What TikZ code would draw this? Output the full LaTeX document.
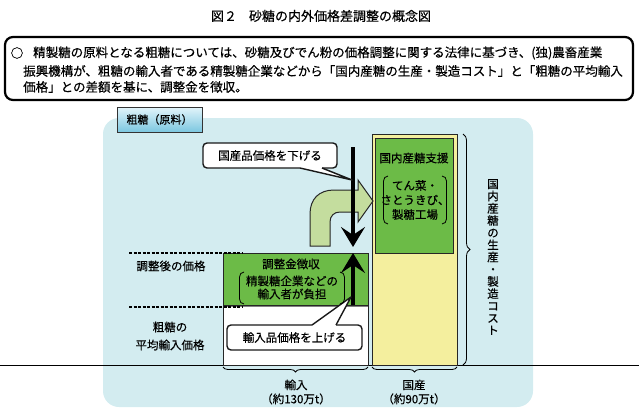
\documentclass[tikz,border=0pt]{standalone}
\usepackage{fontspec}
\usetikzlibrary{arrows.meta,decorations.pathreplacing}
\newfontfamily\jpfont[FakeBold=0.5]{Noto Sans CJK JP}
\definecolor{bgblue}{HTML}{D3ECF0}
\definecolor{midgreen}{HTML}{6CBB47}
\definecolor{palegreen}{HTML}{C4DD9E}
\definecolor{paleyellow}{HTML}{F4EF9E}
\definecolor{labeltop}{HTML}{E2F4FA}
\definecolor{labelbot}{HTML}{7CC7E0}
\tikzset{
  txt/.style={font=\jpfont\fontsize{11.5}{13}\selectfont, inner sep=0pt, align=center},
  bodytxt/.style={font=\jpfont\fontsize{12.5}{14}\selectfont, inner sep=0pt, anchor=west},
  bubble/.style={draw=black!90, line width=1.4pt, rounded corners=4pt, fill=white, font=\jpfont\fontsize{11.5}{13}\selectfont},
  pricebar/.style={line width=4.5pt, -{Stealth[length=20pt,width=24pt,inset=8pt]}},
  level/.style={line width=1.4pt, dash pattern=on 3pt off 1.5pt},
  curly/.style={decorate, decoration={brace, amplitude=5pt}, line width=0.8pt},
  paren/.style={line width=0.8pt},
  boxline/.style={draw=black!85, line width=1pt}
}
\begin{document}
\begin{tikzpicture}[x=1pt,y=-1pt]
\useasboundingbox (0,0) rectangle (639,415);
\node[font=\jpfont\fontsize{13}{15}\selectfont, inner sep=0pt] (title) at (321,16) {図２\hspace{12pt}砂糖の内外価格差調整の概念図};
\draw[line width=2.2pt, rounded corners=8pt] (5,37) rectangle (633,100);
\node[bodytxt, anchor=center] (mark) at (17,53) {○};
\node[bodytxt] (line1) at (33,53) {精製糖の原料となる粗糖については、砂糖及びでん粉の価格調整に関する法律に基づき、(独)農畜産業};
\node[bodytxt] (line2) at (23,71) {振興機構が、粗糖の輸入者である精製糖企業などから「国内産糖の生産・製造コスト」と「粗糖の平均輸入};
\node[bodytxt] (line3) at (23,87) {価格」との差額を基に、調整金を徴収。};
\fill[bgblue, rounded corners=16pt] (103,118) rectangle (533,407);
\node[draw=black!80, line width=1pt, top color=labeltop, bottom color=labelbot, minimum width=85pt, minimum height=25pt, font=\jpfont\fontsize{11}{13}\selectfont, inner sep=0pt] (rawsugar) at (159.5,119.5) {粗糖（原料）};
\draw[line width=0.8pt] (0,365) -- (639,365);
\draw[boxline, fill=white] (223,305) rectangle (368,365);
\draw[boxline, fill=midgreen] (223,253) rectangle (368,305);
\draw[gray, line width=1.8pt] (223.5,306.5) -- (367.5,306.5);
\draw[boxline, fill=paleyellow] (372,134) rectangle (457,365);
\draw[boxline, fill=midgreen] (375,138) rectangle (453,253);
\draw[boxline, fill=palegreen] (310,246) -- (310,214) .. controls (310,199) and (319,190) .. (334,190) -- (358,190) -- (358,180) -- (373,201) -- (358,222) -- (358,212) -- (340,212) .. controls (334,212) and (330,216) .. (330,222) -- (330,246) -- cycle;
\coordinate (downtop) at (353,147);
\coordinate (downtip) at (353,247);
\coordinate (uptail) at (353,305);
\coordinate (uptip) at (353,253);
\draw[pricebar] (downtop) -- (downtip);
\draw[pricebar] (uptail) -- (uptip);
\coordinate (lowtip) at (352,180);
\coordinate (raisetip) at (351,297);
\node[bubble, minimum width=134pt, minimum height=25pt] (lower) at (270,155.5) {国産品価格を下げる};
\fill[white] (300,166) -- (300,168) -- (lowtip) -- (322,168) -- (322,166) -- cycle;
\draw[black!90, line width=1.4pt, line join=round] (300,168) -- (lowtip) -- (322,168);
\node[bubble, minimum width=135pt, minimum height=25pt] (raise) at (294.5,337.5) {輸入品価格を上げる};
\fill[white] (312,327) -- (312,325) -- (raisetip) -- (336,325) -- (336,327) -- cycle;
\draw[black!90, line width=1.4pt, line join=round] (312,325) -- (raisetip) -- (336,325);
\draw[level] (129,253) -- (243,253);
\draw[level] (129,307) -- (243,307);
\node[txt] (adjusted) at (171,266) {調整後の価格};
\node[txt, font=\jpfont\fontsize{11.5}{18}\selectfont] (average) at (170,336) {粗糖の\\平均輸入価格};
\node[txt] (levy) at (291,264) {調整金徴収};
\node[txt] (payer) at (292,287.5) {精製糖企業などの\\輸入者が負担};
\draw[paren] (244,272) to[out=180,in=90] (239.5,277) -- (239.5,299) to[out=-90,in=180] (244,304);
\draw[paren] (340,272) to[out=0,in=90] (344.5,277) -- (344.5,299) to[out=-90,in=0] (340,304);
\node[txt] (support) at (414,158) {国内産糖支援};
\node[txt, font=\jpfont\fontsize{11.5}{14.5}\selectfont] (farms) at (415,200) {てん菜・\\さとうきび、\\製糖工場};
\draw[paren] (388,176) to[out=180,in=90] (383.5,181) -- (383.5,219) to[out=-90,in=180] (388,224);
\draw[paren] (442,176) to[out=0,in=90] (446.5,181) -- (446.5,219) to[out=-90,in=0] (442,224);
\draw[curly, decoration={amplitude=7pt}] (463,134) -- (463,365);
\node[txt, font=\jpfont\fontsize{11.5}{12.2}\selectfont] (cost) at (493,257) {国\\内\\産\\糖\\の\\生\\産\\・\\製\\造\\コ\\ス\\ト};
\draw[curly] (368,367) -- (223,367);
\draw[curly] (457,367) -- (372,367);
\node[txt, font=\jpfont\fontsize{11.5}{14}\selectfont] (imports) at (296,392) {輸入\\（約130万t）};
\node[txt, font=\jpfont\fontsize{11.5}{14}\selectfont] (domestic) at (414,392) {国産\\（約90万t）};
\end{tikzpicture}
\end{document}
